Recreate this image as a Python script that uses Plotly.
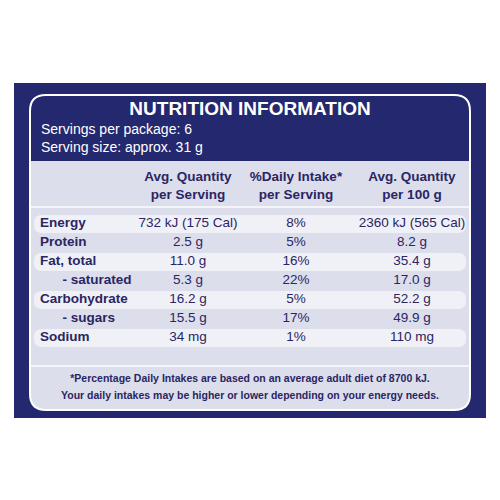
import plotly.graph_objects as go

title = "NUTRITION INFORMATION"
servings = ["Servings per package: 6", "Serving size: approx. 31 g"]
headers = [["Avg. Quantity", "per Serving"], ["%Daily Intake*", "per Serving"], ["Avg. Quantity", "per 100 g"]]
nutrients = ["Energy", "Protein", "Fat, total", "  - saturated", "Carbohydrate", "  - sugars", "Sodium"]
per_serving = ["732 kJ (175 Cal)", "2.5 g", "11.0 g", "5.3 g", "16.2 g", "15.5 g", "34 mg"]
daily_intake = ["8%", "5%", "16%", "22%", "5%", "17%", "1%"]
per_100g = ["2360 kJ (565 Cal)", "8.2 g", "35.4 g", "17.0 g", "52.2 g", "49.9 g", "110 mg"]
footnote = ["*Percentage Daily Intakes are based on an average adult diet of 8700 kJ.",
            "Your daily intakes may be higher or lower depending on your energy needs."]

navy = "#24286e"
ink = "#2a2563"
lav = "#dcdeec"
band = "#f0f1f7"
font = "Liberation Sans, Arial, sans-serif"

row_y = [224 + 19 * i for i in range(len(nutrients))]


def rpath(x0, y0, x1, y1, rt, rb):
    return (f"M{x0+rt},{y0} L{x1-rt},{y0} Q{x1},{y0} {x1},{y0+rt} L{x1},{y1-rb} Q{x1},{y1} {x1-rb},{y1} "
            f"L{x0+rb},{y1} Q{x0},{y1} {x0},{y1-rb} L{x0},{y0+rt} Q{x0},{y0} {x0+rt},{y0} Z")


shapes = [
    dict(type="rect", x0=14, x1=486, y0=83, y1=418, fillcolor=navy, line_width=0, layer="below"),
    dict(type="path", path=rpath(30, 95, 470, 410, 16, 16), fillcolor=lav, line=dict(color="white", width=2), layer="below"),
    dict(type="path", path=rpath(31, 96, 469, 161, 15, 0), fillcolor=navy, line_width=0, layer="below"),
    dict(type="line", x0=31, x1=469, y0=207, y1=207, line=dict(color="#f4f4fa", width=2), layer="below"),
    dict(type="line", x0=31, x1=469, y0=366, y1=366, line=dict(color="#f4f4fa", width=2), layer="below"),
]
for i, y in enumerate(row_y):
    if i % 2 == 0:
        shapes.append(dict(type="path", path=rpath(34, y - 9, 466, y + 9, 8, 8), fillcolor=band,
                           line_width=0, layer="below"))

fig = go.Figure()
fig.add_trace(go.Scatter(x=[250], y=[110], mode="text", text=[f"<b>{title}</b>"],
                         textfont=dict(family=font, size=19, color="white")))
fig.add_trace(go.Scatter(x=[41, 41], y=[130, 148], mode="text", text=servings, textposition="middle right",
                         textfont=dict(family=font, size=14, color="white")))
for xc, h in zip([188, 296, 412], headers):
    fig.add_trace(go.Scatter(x=[xc, xc], y=[178, 196], mode="text", text=[f"<b>{t}</b>" for t in h],
                             textfont=dict(family=font, size=13.5, color=ink)))
fig.add_trace(go.Scatter(x=[40] * len(nutrients), y=row_y, mode="text", textposition="middle right",
                         text=["<b>" + n.replace("  ", "\u00a0\u00a0\u00a0\u00a0\u00a0\u00a0") + "</b>" for n in nutrients],
                         textfont=dict(family=font, size=13.5, color=ink)))
for xc, col in zip([188, 296, 412], [per_serving, daily_intake, per_100g]):
    fig.add_trace(go.Scatter(x=[xc] * len(col), y=row_y, mode="text", text=col,
                             textfont=dict(family=font, size=13.5, color=ink)))
fig.add_trace(go.Scatter(x=[250, 250], y=[379, 396], mode="text", text=[f"<b>{t}</b>" for t in footnote],
                         textfont=dict(family=font, size=10.5, color=ink)))

# shifted ranges compensate for the page's 8px body margin
fig.update_layout(width=500, height=500, margin=dict(l=0, r=0, t=0, b=0), showlegend=False,
                  paper_bgcolor="white", plot_bgcolor="white", shapes=shapes,
                  xaxis=dict(range=[8, 508], visible=False, fixedrange=True),
                  yaxis=dict(range=[508, 8], visible=False, fixedrange=True))
fig.write_html("out.html")
